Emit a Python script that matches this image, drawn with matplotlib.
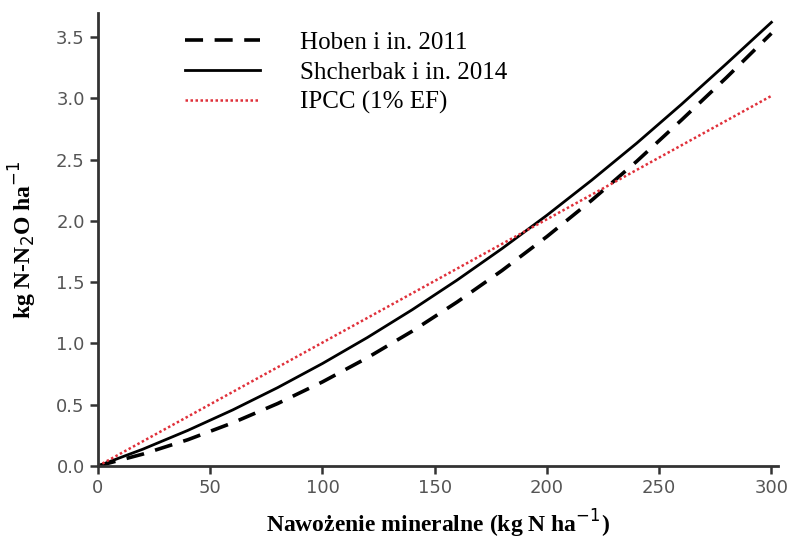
import matplotlib
matplotlib.use("Agg")
import matplotlib.pyplot as plt

# Nitrogen fertiliser rate (kg N/ha)
nawozenie = [0, 20, 40, 60, 80, 100, 120, 140, 160, 180, 200, 220, 240, 260, 280, 300]

# N2O-N emission
hoben = [0, 0.097, 0.214, 0.352, 0.509, 0.686, 0.883, 1.100, 1.338, 1.595,
         1.872, 2.169, 2.486, 2.824, 3.17, 3.53]
shcherbak = [0, 0.137, 0.290, 0.457, 0.639, 0.836, 1.048, 1.275, 1.517, 1.774,
             2.046, 2.333, 2.634, 2.952, 3.283, 3.62]
ipcc_x = [0, 300]
ipcc = [0, 3.02]

labels = ['Hoben i in. 2011', 'Shcherbak i in. 2014', 'IPCC (1% EF)']
xticks = [0, 50, 100, 150, 200, 250, 300]
yticks = [0.0, 0.5, 1.0, 1.5, 2.0, 2.5, 3.0, 3.5]

fig = plt.figure(figsize=(7.9, 5.45), dpi=100)
ax = fig.add_axes([0.124, 0.145, 0.861, 0.832])

ax.plot(nawozenie, hoben, color='black', lw=2.6, dashes=(5, 3.2), label=labels[0])
ax.plot(nawozenie, shcherbak, color='black', lw=2.0, label=labels[1])
ax.plot(ipcc_x, ipcc, color='#e0303a', lw=1.8, ls=(0, (1, 1)), label=labels[2])

ax.set_xlim(0, 303)
ax.set_ylim(0, 3.7)
ax.set_xticks(xticks)
ax.set_yticks(yticks)
ax.set_yticklabels([f'{v:.1f}' for v in yticks])

for side in ['top', 'right']:
    ax.spines[side].set_visible(False)
for side in ['left', 'bottom']:
    ax.spines[side].set_linewidth(2)
    ax.spines[side].set_color('#333333')
ax.tick_params(direction='out', length=6, width=1.8, color='#333333',
               labelsize=13, labelcolor='#555555')

ax.set_xlabel('Nawożenie mineralne (kg N ha$^{-1}$)', family='Liberation Serif',
              fontweight='bold', fontsize=17, labelpad=8)
ax.set_ylabel('kg N-N$_2$O ha$^{-1}$', family='Liberation Serif',
              fontweight='bold', fontsize=17, labelpad=12)

ax.legend(loc='upper left', bbox_to_anchor=(0.128, 0.958), frameon=False,
          prop={'family': 'Liberation Serif', 'size': 18},
          handlelength=3.0, handletextpad=1.6, labelspacing=0.28,
          borderpad=0, borderaxespad=0)

fig.savefig('out.png', dpi=100)
